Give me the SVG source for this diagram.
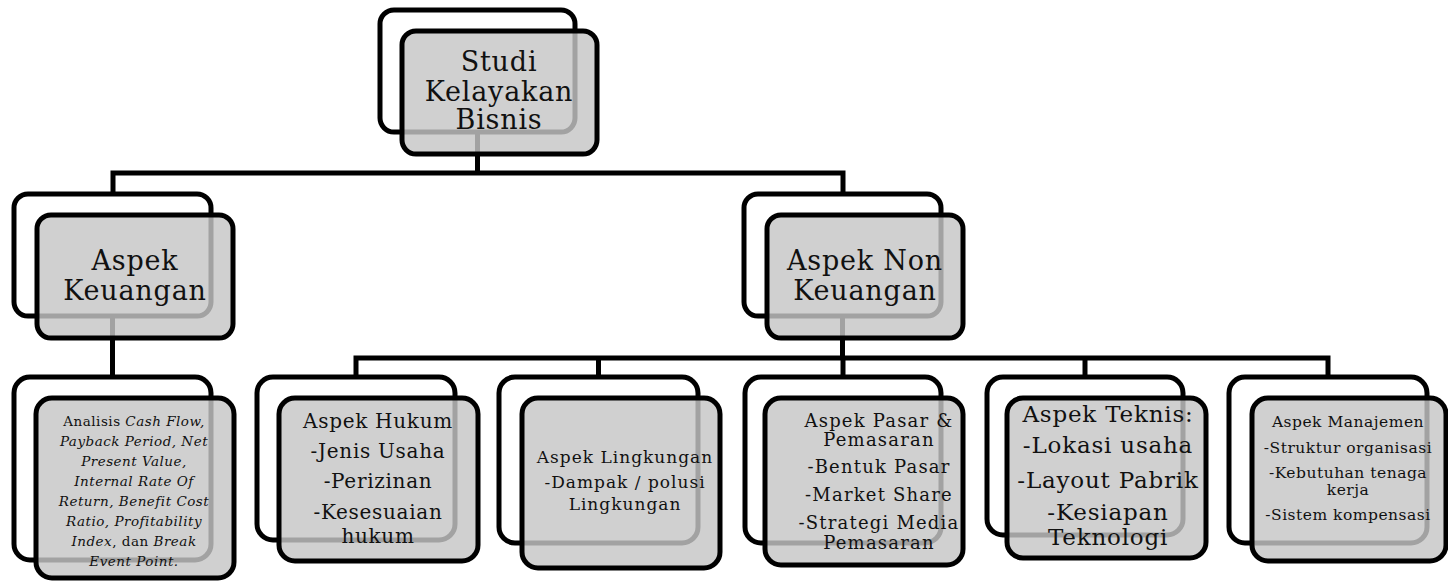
<svg xmlns="http://www.w3.org/2000/svg" width="1448" height="583" viewBox="0 0 1448 583">
  <style>
    .back { fill: #ffffff; stroke: #000; stroke-width: 5; }
    .front { fill: #c6c6c6; fill-opacity: 0.82; stroke: #000; stroke-width: 5; }
    .conn { fill: none; stroke: #000; stroke-width: 5; stroke-linejoin: miter; }
    text { font-family: "DejaVu Serif", "Liberation Serif", serif; fill: #111; text-anchor: middle; }
    .big { font-size: 27px; letter-spacing: 0.8px; }
    .it { font-style: italic; }
  </style>
  <rect x="0" y="0" width="1448" height="583" fill="#ffffff"/>

  <!-- connectors -->
  <g id="connectors">
    <path class="conn" d="M477.5 132 V173"/>
    <path class="conn" d="M113 194 V173 H843 V194"/>
    <path class="conn" d="M112.5 316 V377"/>
    <path class="conn" d="M842.5 316 V358"/>
    <path class="conn" d="M356 377 V358 H1328 V377"/>
    <path class="conn" d="M598.5 358 V377"/>
    <path class="conn" d="M843 358 V377"/>
    <path class="conn" d="M1085 358 V377"/>
  </g>

  <!-- root -->
  <g id="node-studi">
    <rect class="back" x="380" y="10" width="195" height="122" rx="14"/>
    <rect class="front" x="402" y="31" width="195" height="123" rx="14"/>
    <text class="big" x="499" y="71">Studi</text>
    <text class="big" x="499" y="101">Kelayakan</text>
    <text class="big" x="499" y="129">Bisnis</text>
  </g>

  <g id="node-keuangan">
    <rect class="back" x="14" y="194" width="197" height="122" rx="14"/>
    <rect class="front" x="37" y="215" width="196" height="123" rx="14"/>
    <text class="big" x="135" y="270">Aspek</text>
    <text class="big" x="135" y="300">Keuangan</text>
  </g>

  <g id="node-non-keuangan">
    <rect class="back" x="744" y="194" width="197" height="122" rx="14"/>
    <rect class="front" x="767" y="215" width="196" height="123" rx="14"/>
    <text class="big" x="865" y="270" letter-spacing="0.4">Aspek Non</text>
    <text class="big" x="865" y="300">Keuangan</text>
  </g>

  <g id="node-analisis">
    <rect class="back" x="14" y="377" width="197" height="183" rx="16"/>
    <rect class="front" x="36" y="398" width="198" height="180" rx="16"/>
    <g font-size="13.5" letter-spacing="0.5">
      <text x="134" y="426">Analisis <tspan class="it">Cash Flow,</tspan></text>
      <text x="134" y="446" class="it">Payback Period, Net</text>
      <text x="134" y="466" class="it">Present Value,</text>
      <text x="134" y="486" class="it">Internal Rate Of</text>
      <text x="134" y="506" class="it">Return, Benefit Cost</text>
      <text x="134" y="526" class="it">Ratio, Profitability</text>
      <text x="134" y="546"><tspan class="it">Index</tspan>, dan <tspan class="it">Break</tspan></text>
      <text x="134" y="566" class="it">Event Point.</text>
    </g>
  </g>

  <g id="node-hukum">
    <rect class="back" x="257" y="377" width="198" height="163" rx="16"/>
    <rect class="front" x="279" y="398" width="199" height="163" rx="16"/>
    <g font-size="20" letter-spacing="0.7">
      <text x="378" y="428">Aspek Hukum</text>
      <text x="378" y="458">-Jenis Usaha</text>
      <text x="378" y="488">-Perizinan</text>
      <text x="378" y="519">-Kesesuaian</text>
      <text x="378" y="543">hukum</text>
    </g>
  </g>

  <g id="node-lingkungan">
    <rect class="back" x="499" y="377" width="199" height="166" rx="16"/>
    <rect class="front" x="522" y="398" width="198" height="170" rx="16"/>
    <g font-size="17" letter-spacing="1">
      <text x="625" y="463">Aspek Lingkungan</text>
      <text x="625" y="488">-Dampak / polusi</text>
      <text x="625" y="510">Lingkungan</text>
    </g>
  </g>

  <g id="node-pasar">
    <rect class="back" x="745" y="377" width="196" height="166" rx="16"/>
    <rect class="front" x="765" y="398" width="198" height="167" rx="16"/>
    <g font-size="18" letter-spacing="1.2">
      <text x="879" y="427">Aspek Pasar &amp;</text>
      <text x="879" y="446">Pemasaran</text>
      <text x="879" y="473">-Bentuk Pasar</text>
      <text x="879" y="501">-Market Share</text>
      <text x="879" y="529">-Strategi Media</text>
      <text x="879" y="549">Pemasaran</text>
    </g>
  </g>

  <g id="node-teknis">
    <rect class="back" x="987" y="377" width="196" height="158" rx="16"/>
    <rect class="front" x="1007" y="398" width="199" height="160" rx="16"/>
    <g font-size="23" letter-spacing="0.8">
      <text x="1108" y="422">Aspek Teknis:</text>
      <text x="1108" y="453">-Lokasi usaha</text>
      <text x="1108" y="488">-Layout Pabrik</text>
      <text x="1108" y="520">-Kesiapan</text>
      <text x="1108" y="545">Teknologi</text>
    </g>
  </g>

  <g id="node-manajemen">
    <rect class="back" x="1229" y="377" width="198" height="166" rx="16"/>
    <rect class="front" x="1252" y="398" width="194" height="163" rx="16"/>
    <g font-size="15.5" letter-spacing="0.5">
      <text x="1348" y="427">Aspek Manajemen</text>
      <text x="1348" y="453">-Struktur organisasi</text>
      <text x="1348" y="478">-Kebutuhan tenaga</text>
      <text x="1348" y="495">kerja</text>
      <text x="1348" y="520">-Sistem kompensasi</text>
    </g>
  </g>
</svg>
